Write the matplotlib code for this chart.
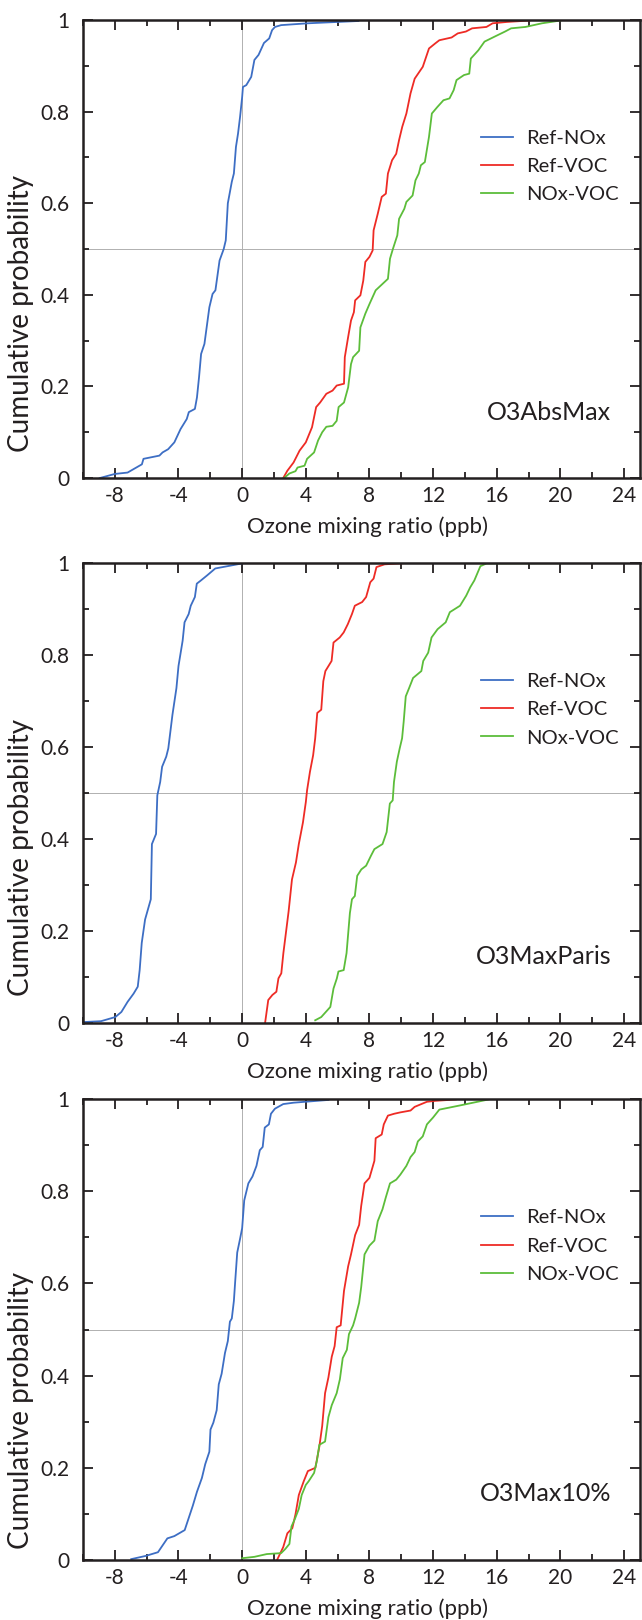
import matplotlib.pyplot as plt
from matplotlib.ticker import MultipleLocator

plt.rcParams["font.family"] = ["Lato", "DejaVu Sans"]

labels = ["Ref-NOx", "Ref-VOC", "NOx-VOC"]
colors = ["#3d6ec4", "#ee2b25", "#5cbd3a"]
panel_names = ["O3AbsMax", "O3MaxParis", "O3Max10%"]

# O3AbsMax
abs_nox_x = [-8.95, -8.0, -7.2, -6.3, -6.2, -5.2, -5.0, -4.65, -4.26, -3.87, -3.48, -3.35, -2.97, -2.84,
             -2.71, -2.58, -2.37, -2.06, -1.86, -1.68, -1.42, -1.16, -1.03, -0.9, -0.65, -0.52, -0.39,
             -0.26, -0.13, 0.0, 0.05, 0.26, 0.57, 0.77, 1.03, 1.37, 1.70, 1.88, 2.06, 2.45, 4.13, 7.3]
abs_nox_p = [0.0, 0.009, 0.012, 0.03, 0.042, 0.049, 0.056, 0.063, 0.078, 0.107, 0.129, 0.144, 0.151, 0.176,
             0.22, 0.271, 0.293, 0.373, 0.402, 0.41, 0.475, 0.50, 0.519, 0.60, 0.647, 0.665, 0.723,
             0.752, 0.789, 0.832, 0.854, 0.858, 0.876, 0.913, 0.924, 0.95, 0.96, 0.978, 0.985, 0.989, 0.993, 0.998]
abs_voc_x = [2.58, 2.84, 3.23, 3.61, 4.0, 4.39, 4.65, 4.9, 5.29, 5.68, 5.94, 6.4, 6.45, 6.66, 6.84, 7.02,
             7.1, 7.43, 7.61, 7.74, 8.0, 8.2, 8.26, 8.52, 8.77, 9.03, 9.16, 9.42, 9.68, 9.86, 10.06, 10.32,
             10.58, 10.84, 11.35, 11.74, 12.13, 12.39, 13.16, 13.55, 14.06, 14.45, 15.35, 15.74, 16.65, 18.06]
abs_voc_p = [0.0, 0.016, 0.034, 0.06, 0.078, 0.111, 0.155, 0.165, 0.184, 0.191, 0.202, 0.206, 0.264, 0.308,
             0.344, 0.362, 0.388, 0.399, 0.431, 0.472, 0.483, 0.497, 0.541, 0.577, 0.614, 0.621, 0.665,
             0.694, 0.708, 0.738, 0.767, 0.796, 0.84, 0.872, 0.898, 0.938, 0.949, 0.956, 0.962, 0.971,
             0.975, 0.982, 0.985, 0.993, 0.996, 0.999]
abs_nv_x = [2.63, 2.97, 3.35, 3.48, 3.92, 4.08, 4.52, 4.77, 5.03, 5.29, 5.68, 5.94, 6.06, 6.4, 6.66, 6.84,
            6.97, 7.35, 7.43, 7.74, 8.0, 8.39, 9.16, 9.29, 9.47, 9.75, 9.86, 10.19, 10.32, 10.71, 10.89,
            11.1, 11.23, 11.48, 11.74, 11.92, 12.26, 12.65, 13.03, 13.29, 13.47, 13.94, 14.27, 14.37,
            14.84, 15.23, 15.87, 16.52, 16.9, 17.8, 18.84, 20.0]
abs_nv_p = [0.0, 0.010, 0.015, 0.023, 0.027, 0.042, 0.056, 0.082, 0.1, 0.112, 0.114, 0.125, 0.155, 0.165,
            0.198, 0.249, 0.264, 0.278, 0.329, 0.359, 0.380, 0.41, 0.435, 0.479, 0.50, 0.53, 0.566, 0.588,
            0.603, 0.617, 0.65, 0.665, 0.683, 0.69, 0.745, 0.796, 0.81, 0.825, 0.829, 0.847, 0.869, 0.88,
            0.883, 0.916, 0.934, 0.953, 0.964, 0.975, 0.982, 0.985, 0.993, 0.999]

# O3MaxParis
par_nox_x = [-10.0, -8.87, -7.97, -7.59, -7.2, -6.82, -6.56, -6.44, -6.31, -6.1, -5.92, -5.74, -5.67, -5.41,
             -5.33, -5.15, -5.03, -4.77, -4.64, -4.38, -4.13, -4.0, -3.74, -3.62, -3.36, -3.23, -2.97,
             -2.85, -2.59, -2.2, -1.69, -0.92, 0.0]
par_nox_p = [0.002, 0.004, 0.013, 0.024, 0.046, 0.064, 0.079, 0.115, 0.174, 0.225, 0.247, 0.269, 0.389, 0.411,
             0.495, 0.524, 0.557, 0.579, 0.597, 0.670, 0.728, 0.776, 0.831, 0.871, 0.889, 0.907, 0.926,
             0.955, 0.962, 0.973, 0.988, 0.993, 0.999]
par_voc_x = [1.44, 1.64, 1.9, 2.15, 2.28, 2.46, 2.59, 2.79, 2.92, 3.13, 3.38, 3.56, 3.82, 4.0, 4.08, 4.26,
             4.46, 4.59, 4.72, 4.97, 5.1, 5.23, 5.62, 5.74, 6.13, 6.38, 6.64, 6.9, 7.08, 7.54, 7.79, 8.05,
             8.26, 8.44, 8.95, 10.36, 12.54]
par_voc_p = [0.0, 0.05, 0.061, 0.068, 0.097, 0.108, 0.152, 0.207, 0.243, 0.312, 0.349, 0.389, 0.436, 0.48,
             0.506, 0.546, 0.582, 0.619, 0.674, 0.681, 0.743, 0.765, 0.787, 0.827, 0.838, 0.849, 0.867,
             0.889, 0.907, 0.915, 0.926, 0.958, 0.966, 0.991, 0.997, 1.0, 1.0]
par_nv_x = [4.59, 4.97, 5.36, 5.54, 5.74, 5.95, 6.05, 6.38, 6.56, 6.77, 6.9, 7.08, 7.23, 7.49, 7.79, 8.1,
            8.31, 8.82, 9.08, 9.28, 9.46, 9.54, 9.72, 9.9, 10.05, 10.15, 10.28, 10.49, 10.74, 11.26, 11.38,
            11.69, 11.9, 12.28, 12.79, 13.05, 13.69, 14.08, 14.33, 14.59, 14.97, 15.36, 25.0]
par_nv_p = [0.006, 0.013, 0.028, 0.035, 0.075, 0.097, 0.112, 0.115, 0.152, 0.239, 0.269, 0.276, 0.320,
            0.334, 0.342, 0.364, 0.378, 0.389, 0.415, 0.477, 0.484, 0.524, 0.568, 0.597, 0.619, 0.655,
            0.710, 0.728, 0.75, 0.765, 0.787, 0.805, 0.838, 0.856, 0.871, 0.893, 0.907, 0.929, 0.947,
            0.962, 0.993, 0.999, 1.0]

# O3Max10%
p10_nox_x = [-6.97, -6.06, -5.29, -4.7, -4.26, -3.61, -3.35, -3.1, -2.84, -2.53, -2.32, -2.06, -1.99, -1.81,
             -1.6, -1.47, -1.29, -1.08, -0.9, -0.77, -0.65, -0.52, -0.44, -0.31, -0.13, 0.0, 0.13, 0.39,
             0.65, 0.9, 1.11, 1.29, 1.42, 1.68, 1.81, 2.06, 2.58, 3.23, 5.42]
p10_nox_p = [0.002, 0.009, 0.017, 0.047, 0.052, 0.065, 0.092, 0.118, 0.148, 0.178, 0.208, 0.235, 0.283, 0.298,
             0.325, 0.381, 0.404, 0.449, 0.475, 0.517, 0.524, 0.562, 0.603, 0.667, 0.697, 0.72, 0.78, 0.817,
             0.832, 0.855, 0.889, 0.896, 0.938, 0.945, 0.968, 0.979, 0.989, 0.992, 0.998]
p10_voc_x = [2.19, 2.58, 2.84, 3.15, 3.35, 3.56, 3.87, 4.13, 4.6, 4.85, 5.03, 5.21, 5.42, 5.63, 5.81, 5.94,
             6.19, 6.4, 6.66, 6.84, 7.1, 7.35, 7.48, 7.69, 8.0, 8.31, 8.39, 8.77, 8.9, 9.16, 9.55, 9.94,
             10.58, 10.84, 11.61, 12.13, 13.42]
p10_voc_p = [0.0, 0.028, 0.058, 0.069, 0.099, 0.141, 0.171, 0.193, 0.2, 0.246, 0.291, 0.362, 0.396, 0.441,
             0.464, 0.505, 0.509, 0.584, 0.637, 0.663, 0.705, 0.727, 0.768, 0.817, 0.829, 0.866, 0.915,
             0.923, 0.945, 0.964, 0.968, 0.971, 0.975, 0.983, 0.994, 0.996, 0.999]
p10_nv_x = [0.0, 0.77, 1.55, 2.45, 2.71, 2.97, 3.1, 3.3, 3.56, 3.74, 4.0, 4.18, 4.52, 4.7, 4.85, 5.21, 5.42,
            5.63, 5.94, 6.14, 6.32, 6.58, 6.71, 6.97, 7.1, 7.35, 7.48, 7.69, 8.0, 8.31, 8.52, 8.82, 9.03,
            9.29, 9.68, 9.94, 10.32, 10.58, 10.84, 11.04, 11.35, 11.61, 12.0, 12.39, 13.68, 15.48]
p10_nv_p = [0.004, 0.007, 0.013, 0.015, 0.024, 0.035, 0.073, 0.088, 0.111, 0.141, 0.163, 0.171, 0.189, 0.216,
            0.25, 0.257, 0.31, 0.336, 0.362, 0.392, 0.438, 0.456, 0.49, 0.509, 0.524, 0.558, 0.592, 0.663,
            0.682, 0.693, 0.735, 0.761, 0.787, 0.817, 0.825, 0.836, 0.855, 0.874, 0.885, 0.908, 0.919,
            0.945, 0.96, 0.977, 0.986, 0.999]

panels = [
    [(abs_nox_x, abs_nox_p), (abs_voc_x, abs_voc_p), (abs_nv_x, abs_nv_p)],
    [(par_nox_x, par_nox_p), (par_voc_x, par_voc_p), (par_nv_x, par_nv_p)],
    [(p10_nox_x, p10_nox_p), (p10_voc_x, p10_voc_p), (p10_nv_x, p10_nv_p)],
]

fig = plt.figure(figsize=(6.42, 16.2), dpi=100)
# axes boxes: left, bottom, width, height in figure fractions
boxes = [[0.1293, 0.7049, 0.8676, 0.2827],
         [0.1293, 0.3685, 0.8676, 0.2840],
         [0.1293, 0.0370, 0.8676, 0.2846]]
ylabel_pos = [0.36, 0.36, 0.325]
ink = "#231f20"

for i, series in enumerate(panels):
    ax = fig.add_axes(boxes[i])
    ax.axvline(0, color="#b0b0b0", lw=0.7, zorder=0)
    ax.axhline(0.5, color="#b0b0b0", lw=0.7, zorder=0)
    for (x, p), lab, col in zip(series, labels, colors):
        ax.plot(x, p, color=col, lw=1.3, label=lab)

    ax.set_xlim(-10, 25)
    ax.set_ylim(0, 1)
    ax.xaxis.set_minor_locator(MultipleLocator(2))
    ax.yaxis.set_minor_locator(MultipleLocator(0.1))
    ax.set_xticks([-8, -4, 0, 4, 8, 12, 16, 20, 24])
    ax.set_xticklabels(["-8", "-4", "0", "4", "8", "12", "16", "20", "24"])
    ax.set_yticks([0, 0.2, 0.4, 0.6, 0.8, 1.0])
    ax.set_yticklabels(["0", "0.2", "0.4", "0.6", "0.8", "1"])
    ax.tick_params(which="both", direction="in", top=True, right=True, width=1.3, colors=ink)
    ax.tick_params(which="major", length=7, labelsize=15)
    ax.tick_params(which="minor", length=4.5)
    ax.tick_params(axis="x", pad=6)
    ax.tick_params(axis="y", pad=10)
    for s in ax.spines.values():
        s.set_linewidth(1.8)
        s.set_color(ink)

    ax.set_xlabel("Ozone mixing ratio (ppb)", fontsize=16, color=ink)
    ax.xaxis.set_label_coords(0.51, -0.084)
    ax.set_ylabel("Cumulative probability", fontsize=20, color=ink)
    ax.yaxis.set_label_coords(-0.088, ylabel_pos[i])

    ax.legend(loc="upper right", bbox_to_anchor=(0.995, 0.80), frameon=False, fontsize=14.5,
              handlelength=1.6, handletextpad=0.65, labelspacing=0.55, labelcolor=ink)
    ax.text(0.948, 0.144, panel_names[i], transform=ax.transAxes, ha="right", va="center",
            fontsize=18, color=ink)

fig.savefig("out.png", dpi=100)
